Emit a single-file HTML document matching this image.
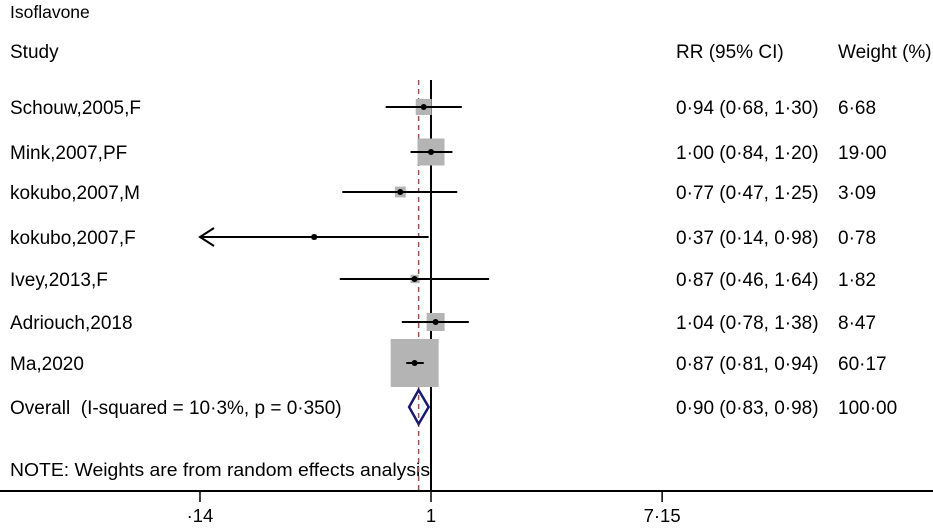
<!DOCTYPE html>
<html><head><meta charset="utf-8"><style>
body{margin:0;background:#fff}
svg{display:block;font-family:"Liberation Sans",Arial,sans-serif}
text{white-space:pre}
</style></head><body>
<svg id="c" width="933" height="528">
<text x="10" y="18" font-size="17.5">Isoflavone</text>
<text x="10" y="58" font-size="19">Study</text>
<text x="676" y="58" font-size="19">RR (95% CI)</text>
<text x="838" y="58" font-size="19">Weight (%)</text>
<text x="10" y="476" font-size="18.5" textLength="420" lengthAdjust="spacingAndGlyphs">NOTE: Weights are from random effects analysis</text>
<g id="marks"></g>
</svg>
<script>
const studies=["Schouw,2005,F","Mink,2007,PF","kokubo,2007,M","kokubo,2007,F","Ivey,2013,F","Adriouch,2018","Ma,2020"];
const rr=[0.94,1.00,0.77,0.37,0.87,1.04,0.87];
const lo=[0.68,0.84,0.47,0.14,0.46,0.78,0.81];
const hi=[1.30,1.20,1.25,0.98,1.64,1.38,0.94];
const weights=[6.68,19.00,3.09,0.78,1.82,8.47,60.17];
const rowY=[107,152,192,237,279,322,363];
const overall=[0.90,0.83,0.98];
const overallLabel="Overall  (I-squared = 10·3%, p = 0·350)";
const ticks=[0.14,1,7.15];
const tickLabels=["·14","1","7·15"];
const NS="http://www.w3.org/2000/svg";
const g=document.getElementById('marks');
const X=v=>431+117.5*Math.log(v);
const f=v=>v.toFixed(2).replace('.','·');
const FS=19;
function el(t,a,txt){const e=document.createElementNS(NS,t);for(const k in a)e.setAttribute(k,a[k]);if(txt!=null)e.textContent=txt;g.appendChild(e);return e;}
let e=el('line',{x1:0,x2:933,y1:491,y2:491,stroke:'#000','stroke-width':2});


e=el('line',{x1:X(1),x2:X(1),y1:80,y2:491,stroke:'#000','stroke-width':2});


e=el('line',{x1:X(overall[0]),x2:X(overall[0]),y1:80,y2:491,stroke:'#a05050','stroke-width':1.5,'stroke-dasharray':'5,4'});


ticks.forEach((t,i)=>{
 e=el('line',{x1:X(t),x2:X(t),y1:491,y2:502,stroke:'#000','stroke-width':1.5});
 
 
 e=el('text',{x:X(t),y:522,'font-size':18.5,'text-anchor':'middle'},tickLabels[i]);
 
 
});
studies.forEach((s,i)=>{
 const y=rowY[i];
 const side=48*Math.sqrt(weights[i]/60.17);
 e=el('rect',{x:X(rr[i])-side/2,y:y-side/2,width:side,height:side,fill:'#b4b4b4'});
 
 
 const x1=Math.max(X(lo[i]),200);
 e=el('line',{x1:x1,x2:X(hi[i]),y1:y,y2:y,stroke:'#000','stroke-width':2});
 
 
 if(X(lo[i])<=200){
  e=el('polyline',{points:`${x1+14},${y-9} ${x1},${y} ${x1+14},${y+9}`,fill:'none',stroke:'#000','stroke-width':2});
  
  
 }
 e=el('circle',{cx:X(rr[i]),cy:y,r:3,fill:'#000'});
 
 
 e=el('text',{x:10,y:y+7,'font-size':FS},s);
 
 
 e=el('text',{x:676,y:y+7,'font-size':FS},`${f(rr[i])} (${f(lo[i])}, ${f(hi[i])})`);
 
 
 e=el('text',{x:838,y:y+7,'font-size':FS},f(weights[i]));
 
 
});
const oy=407;
e=el('polygon',{points:`${X(overall[1])},${oy} ${X(overall[0])},${oy-17} ${X(overall[2])},${oy} ${X(overall[0])},${oy+17}`,fill:'none',stroke:'#1a1a70','stroke-width':2.5});


e=el('text',{x:10,y:oy+7,'font-size':FS},overallLabel);


e=el('text',{x:676,y:oy+7,'font-size':FS},`${f(overall[0])} (${f(overall[1])}, ${f(overall[2])})`);


e=el('text',{x:838,y:oy+7,'font-size':FS},'100·00');


</script>
</body></html>
